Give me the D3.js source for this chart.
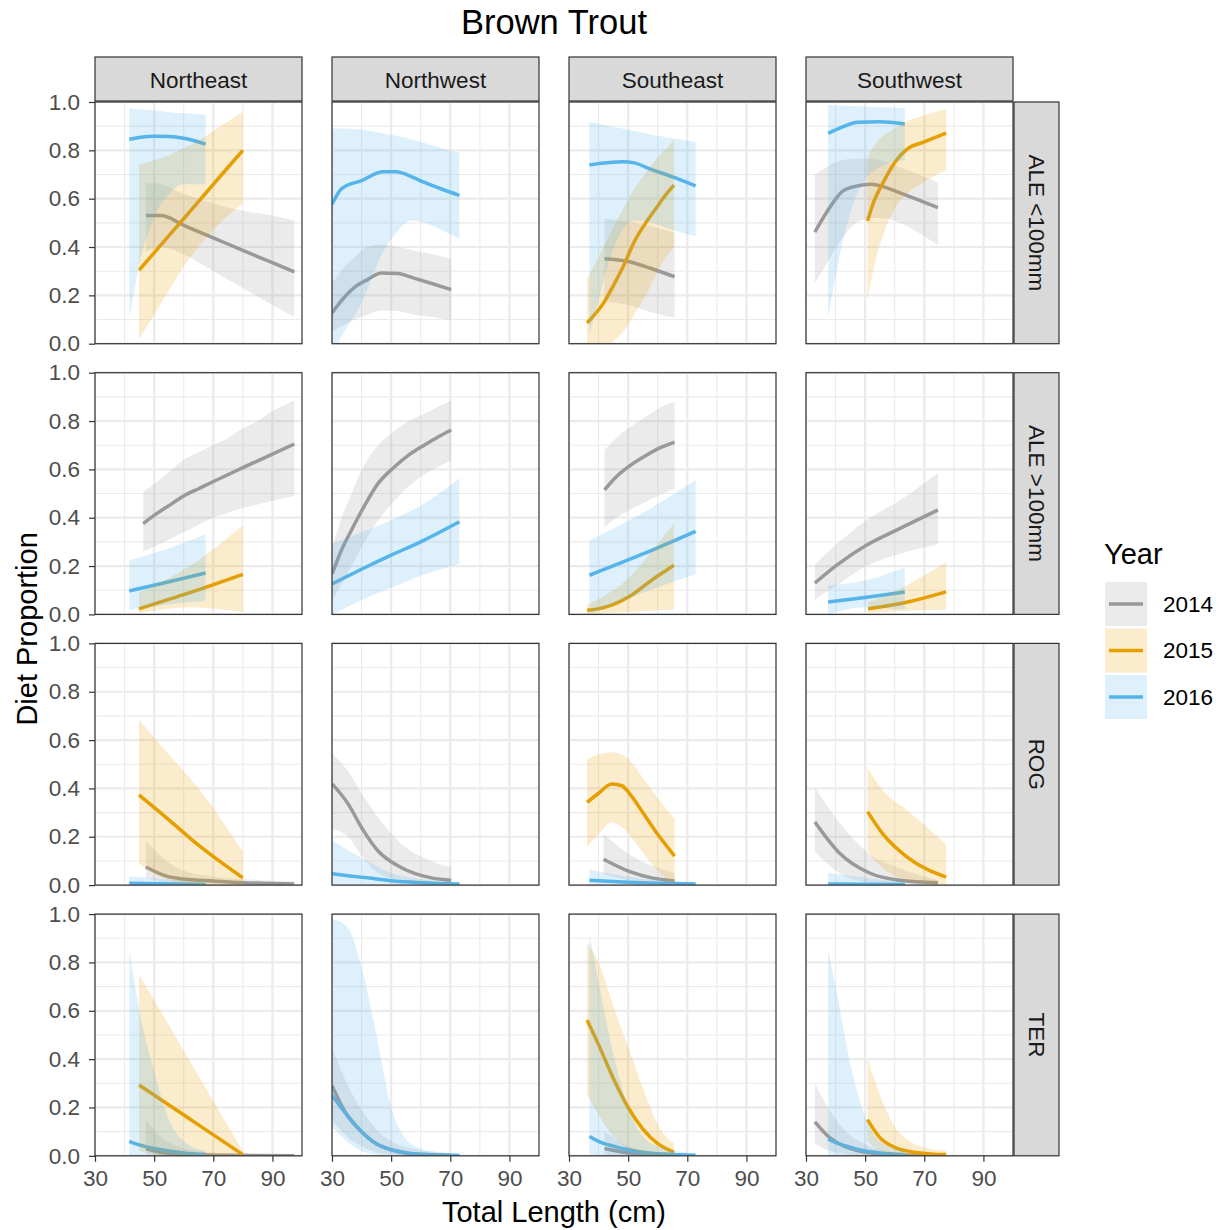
<!DOCTYPE html>
<html>
<head>
<meta charset="utf-8">
<script src="https://cdn.jsdelivr.net/npm/d3@7"></script>
<style>
  body { margin: 0; background: #fff; }
  svg { font-family: "Liberation Sans", Arial, sans-serif; }
</style>
</head>
<body>
<div id="chart"></div>
<script>
// facets and groups
var regions = ["Northeast", "Northwest", "Southeast", "Southwest"];
var preyTypes = ["ALE <100mm", "ALE >100mm", "ROG", "TER"];
var years = ["2014", "2015", "2016"];
var yearColors = ["#999999", "#E69F00", "#56B4E9"];
var xTicks = [30, 50, 70, 90];
var yTicks = [0, 0.2, 0.4, 0.6, 0.8, 1.0];

// fitted curves: x = total length, fit, lo, hi
var aleSmall = [
  {r: "Northeast", yr: "2014", x: [47.2, 52.3, 60, 70, 80, 90, 97.4],
   fit: [0.53, 0.53, 0.49, 0.438, 0.386, 0.335, 0.297],
   lo: [0.38, 0.40, 0.37, 0.30, 0.23, 0.16, 0.11],
   hi: [0.667, 0.66, 0.62, 0.58, 0.55, 0.53, 0.51]},
  {r: "Northeast", yr: "2015", x: [44.9, 50, 55, 60, 65, 70, 75, 80],
   fit: [0.304, 0.376, 0.447, 0.517, 0.588, 0.659, 0.73, 0.80],
   lo: [0.02, 0.12, 0.22, 0.32, 0.40, 0.47, 0.53, 0.58],
   hi: [0.74, 0.76, 0.78, 0.81, 0.84, 0.88, 0.92, 0.96]},
  {r: "Northeast", yr: "2016", x: [41.6, 45, 50, 55, 60, 67.4],
   fit: [0.846, 0.853, 0.858, 0.857, 0.85, 0.826],
   lo: [0.10, 0.33, 0.52, 0.62, 0.66, 0.66],
   hi: [0.974, 0.970, 0.965, 0.958, 0.953, 0.947]},
  {r: "Northwest", yr: "2014", x: [30, 33, 37.8, 42, 46.7, 52.3, 58, 64, 70.3],
   fit: [0.127, 0.175, 0.235, 0.265, 0.293, 0.29, 0.27, 0.248, 0.224],
   lo: [0.05, 0.07, 0.10, 0.12, 0.138, 0.135, 0.12, 0.11, 0.097],
   hi: [0.25, 0.30, 0.36, 0.40, 0.41, 0.40, 0.385, 0.37, 0.351]},
  {r: "Northwest", yr: "2016", x: [30, 33.3, 40, 47.3, 51.8, 57, 61.3, 67, 73.1],
   fit: [0.577, 0.642, 0.675, 0.711, 0.711, 0.69, 0.667, 0.64, 0.614],
   lo: [-0.05, 0.03, 0.17, 0.38, 0.46, 0.51, 0.50, 0.47, 0.434],
   hi: [0.89, 0.89, 0.885, 0.87, 0.86, 0.845, 0.83, 0.81, 0.79]},
  {r: "Southeast", yr: "2014", x: [42, 50, 58, 65.7],
   fit: [0.351, 0.34, 0.31, 0.277],
   lo: [0.176, 0.16, 0.13, 0.107],
   hi: [0.517, 0.505, 0.485, 0.459]},
  {r: "Southeast", yr: "2015", x: [36.1, 41.7, 45, 48.4, 52, 56.8, 60, 62.4, 65.5],
   fit: [0.086, 0.169, 0.24, 0.321, 0.42, 0.515, 0.57, 0.611, 0.656],
   lo: [-0.02, -0.01, 0.01, 0.05, 0.12, 0.22, 0.30, 0.35, 0.40],
   hi: [0.27, 0.40, 0.48, 0.56, 0.64, 0.72, 0.77, 0.80, 0.846]},
  {r: "Southeast", yr: "2016", x: [36.9, 40, 44, 48, 52, 58, 65, 72.8],
   fit: [0.739, 0.745, 0.75, 0.753, 0.748, 0.72, 0.69, 0.653],
   lo: [0.04, 0.18, 0.36, 0.47, 0.51, 0.50, 0.47, 0.445],
   hi: [0.918, 0.91, 0.90, 0.89, 0.88, 0.865, 0.85, 0.835]},
  {r: "Southwest", yr: "2014", x: [33, 36.9, 42.5, 47, 52.1, 56, 61.6, 68, 74.6],
   fit: [0.462, 0.542, 0.632, 0.652, 0.66, 0.65, 0.625, 0.595, 0.563],
   lo: [0.25, 0.33, 0.44, 0.50, 0.52, 0.52, 0.50, 0.46, 0.407],
   hi: [0.70, 0.73, 0.76, 0.765, 0.765, 0.755, 0.73, 0.70, 0.667]},
  {r: "Southwest", yr: "2015", x: [50.8, 53, 56.1, 60, 64.2, 70, 77.4],
   fit: [0.508, 0.59, 0.667, 0.75, 0.805, 0.835, 0.871],
   lo: [0.176, 0.32, 0.45, 0.56, 0.62, 0.67, 0.719],
   hi: [0.77, 0.82, 0.86, 0.89, 0.92, 0.945, 0.971]},
  {r: "Southwest", yr: "2016", x: [37.5, 42, 47.6, 54.9, 63.4],
   fit: [0.87, 0.895, 0.916, 0.918, 0.909],
   lo: [0.107, 0.40, 0.63, 0.73, 0.76],
   hi: [0.988, 0.985, 0.982, 0.978, 0.975]}
];

var aleLarge = [
  {r: "Northeast", yr: "2014", x: [46.3, 50, 55, 60, 65, 69.9, 75, 80, 85, 90, 97.4],
   fit: [0.376, 0.41, 0.45, 0.49, 0.52, 0.549, 0.578, 0.607, 0.635, 0.663, 0.705],
   lo: [0.259, 0.28, 0.31, 0.34, 0.37, 0.40, 0.42, 0.44, 0.455, 0.47, 0.49],
   hi: [0.508, 0.54, 0.59, 0.64, 0.67, 0.70, 0.73, 0.77, 0.80, 0.84, 0.885]},
  {r: "Northeast", yr: "2015", x: [44.9, 62, 80],
   fit: [0.023, 0.09, 0.166], lo: [0.005, 0.03, 0.01], hi: [0.09, 0.2, 0.369]},
  {r: "Northeast", yr: "2016", x: [41.6, 54, 67.4],
   fit: [0.097, 0.132, 0.171], lo: [0.017, 0.04, 0.055], hi: [0.224, 0.27, 0.332]},
  {r: "Northwest", yr: "2014", x: [30.1, 33, 36.6, 41, 45.6, 51.2, 56, 61.3, 66, 70.3],
   fit: [0.169, 0.26, 0.349, 0.45, 0.542, 0.611, 0.66, 0.701, 0.735, 0.763],
   lo: [0.058, 0.12, 0.2, 0.30, 0.39, 0.47, 0.53, 0.58, 0.61, 0.639],
   hi: [0.279, 0.39, 0.50, 0.62, 0.70, 0.76, 0.80, 0.83, 0.86, 0.885]},
  {r: "Northwest", yr: "2016", x: [30.1, 40, 50, 60, 73.1],
   fit: [0.127, 0.187, 0.245, 0.30, 0.383], lo: [0.0, 0.06, 0.11, 0.16, 0.21],
   hi: [0.293, 0.34, 0.39, 0.45, 0.563]},
  {r: "Southeast", yr: "2014", x: [42, 46, 50.1, 55, 60, 65.7],
   fit: [0.515, 0.57, 0.611, 0.65, 0.685, 0.713],
   lo: [0.362, 0.40, 0.43, 0.46, 0.49, 0.521],
   hi: [0.68, 0.73, 0.77, 0.81, 0.85, 0.881]},
  {r: "Southeast", yr: "2015", x: [36.1, 42.3, 50.1, 57.9, 65.5],
   fit: [0.017, 0.03, 0.072, 0.141, 0.203], lo: [0.0, 0.005, 0.01, 0.015, 0.02],
   hi: [0.04, 0.08, 0.15, 0.26, 0.376]},
  {r: "Southeast", yr: "2016", x: [36.9, 55, 72.8],
   fit: [0.162, 0.25, 0.344], lo: [0.0, 0.09, 0.166], hi: [0.307, 0.42, 0.556]},
  {r: "Southwest", yr: "2014", x: [33, 40.3, 50.4, 61.6, 74.6],
   fit: [0.13, 0.203, 0.286, 0.355, 0.432], lo: [0.061, 0.12, 0.2, 0.25, 0.29],
   hi: [0.207, 0.29, 0.39, 0.47, 0.586]},
  {r: "Southwest", yr: "2015", x: [51, 64, 77.4],
   fit: [0.023, 0.05, 0.093], lo: [0.005, 0.015, 0.02], hi: [0.05, 0.12, 0.217]},
  {r: "Southwest", yr: "2016", x: [37.5, 50, 63.4],
   fit: [0.051, 0.07, 0.093], lo: [0.0, 0.03, 0.02], hi: [0.12, 0.14, 0.194]}
];

var rog = [
  {r: "Northeast", yr: "2014", x: [47.2, 54.2, 60, 69.9, 80, 97.4],
   fit: [0.075, 0.037, 0.025, 0.017, 0.01, 0.005], lo: [0.03, 0.01, 0.005, 0, 0, 0],
   hi: [0.185, 0.10, 0.06, 0.035, 0.025, 0.015]},
  {r: "Northeast", yr: "2015", x: [44.9, 55, 65, 80],
   fit: [0.373, 0.27, 0.165, 0.03], lo: [0.088, 0.02, 0.0, 0.0], hi: [0.683, 0.54, 0.40, 0.138]},
  {r: "Northeast", yr: "2016", x: [41.6, 67.4],
   fit: [0.008, 0.003], lo: [0, 0], hi: [0.037, 0.01]},
  {r: "Northwest", yr: "2014", x: [30.1, 35.5, 40, 45.6, 53.5, 63.6, 70.3],
   fit: [0.418, 0.335, 0.238, 0.141, 0.072, 0.03, 0.02],
   lo: [0.231, 0.2, 0.12, 0.05, 0.02, 0.005, 0.005],
   hi: [0.542, 0.47, 0.38, 0.28, 0.17, 0.1, 0.072]},
  {r: "Northwest", yr: "2016", x: [30.1, 36, 43.4, 50, 60, 73.1],
   fit: [0.047, 0.038, 0.028, 0.018, 0.01, 0.005], lo: [0, 0, 0, 0, 0, 0],
   hi: [0.185, 0.14, 0.09, 0.05, 0.025, 0.01]},
  {r: "Southeast", yr: "2014", x: [41.7, 50.1, 58, 65.7],
   fit: [0.107, 0.058, 0.03, 0.017], lo: [0.045, 0.02, 0.005, 0.0], hi: [0.21, 0.13, 0.08, 0.05]},
  {r: "Southeast", yr: "2015", x: [36.1, 40, 44.5, 47.9, 51, 54.6, 60, 65.7],
   fit: [0.342, 0.38, 0.418, 0.411, 0.37, 0.307, 0.21, 0.12],
   lo: [0.158, 0.21, 0.259, 0.24, 0.2, 0.14, 0.06, 0.0],
   hi: [0.521, 0.54, 0.55, 0.54, 0.51, 0.45, 0.36, 0.273]},
  {r: "Southeast", yr: "2016", x: [36.9, 50, 72.8],
   fit: [0.02, 0.012, 0.005], lo: [0, 0, 0], hi: [0.065, 0.035, 0.01]},
  {r: "Southwest", yr: "2014", x: [33, 41.2, 51.3, 61.6, 74.6],
   fit: [0.261, 0.134, 0.051, 0.02, 0.01], lo: [0.138, 0.05, 0.01, 0.0, 0.0],
   hi: [0.404, 0.26, 0.13, 0.07, 0.02]},
  {r: "Southwest", yr: "2015", x: [50.8, 56.1, 64.2, 77.4],
   fit: [0.304, 0.21, 0.116, 0.033], lo: [0.138, 0.07, 0.02, 0.0], hi: [0.484, 0.39, 0.31, 0.169]},
  {r: "Southwest", yr: "2016", x: [37.5, 63.4],
   fit: [0.005, 0.002], lo: [0, 0], hi: [0.05, 0.01]}
];

var ter = [
  {r: "Northeast", yr: "2014", x: [47.2, 52, 58, 65, 75, 97.4],
   fit: [0.03, 0.015, 0.008, 0.004, 0.002, 0.0], lo: [0, 0, 0, 0, 0, 0],
   hi: [0.15, 0.08, 0.04, 0.02, 0.01, 0.003]},
  {r: "Northeast", yr: "2015", x: [44.9, 55, 65, 80],
   fit: [0.293, 0.21, 0.128, 0.005], lo: [0.02, 0, 0, 0], hi: [0.75, 0.54, 0.33, 0.02]},
  {r: "Northeast", yr: "2016", x: [41.6, 45, 50, 55, 60, 67.4],
   fit: [0.06, 0.045, 0.03, 0.02, 0.012, 0.005], lo: [0, 0, 0, 0, 0, 0],
   hi: [0.85, 0.6, 0.35, 0.15, 0.06, 0.02]},
  {r: "Northwest", yr: "2014", x: [30, 35, 40, 45, 50, 55, 62, 70.3],
   fit: [0.29, 0.17, 0.10, 0.05, 0.025, 0.012, 0.005, 0.002],
   lo: [0.15, 0.08, 0.04, 0.015, 0.005, 0, 0, 0],
   hi: [0.45, 0.30, 0.19, 0.11, 0.06, 0.035, 0.02, 0.01]},
  {r: "Northwest", yr: "2016", x: [30, 35, 40, 45, 50, 55, 60, 66, 73.1],
   fit: [0.25, 0.17, 0.10, 0.05, 0.025, 0.012, 0.006, 0.003, 0.001],
   lo: [0.12, 0.06, 0.02, 0.005, 0, 0, 0, 0, 0],
   hi: [0.98, 0.95, 0.78, 0.5, 0.2, 0.07, 0.03, 0.015, 0.01]},
  {r: "Southeast", yr: "2014", x: [42, 50, 58, 65.7],
   fit: [0.03, 0.012, 0.005, 0.002], lo: [0, 0, 0, 0], hi: [0.1, 0.04, 0.015, 0.005]},
  {r: "Southeast", yr: "2015", x: [36.1, 40, 45, 50, 55, 60, 65.5],
   fit: [0.562, 0.46, 0.32, 0.2, 0.11, 0.05, 0.015],
   lo: [0.25, 0.17, 0.08, 0.03, 0.01, 0.0, 0.0],
   hi: [0.88, 0.8, 0.62, 0.45, 0.28, 0.13, 0.05]},
  {r: "Southeast", yr: "2016", x: [36.9, 40, 45, 50, 55, 62, 72.8],
   fit: [0.08, 0.06, 0.04, 0.025, 0.015, 0.007, 0.002], lo: [0, 0, 0, 0, 0, 0, 0],
   hi: [0.92, 0.72, 0.42, 0.2, 0.08, 0.03, 0.01]},
  {r: "Southwest", yr: "2014", x: [33, 38, 42, 48, 55, 63, 74.6],
   fit: [0.14, 0.075, 0.045, 0.02, 0.008, 0.003, 0.001],
   lo: [0.05, 0.02, 0.01, 0, 0, 0, 0],
   hi: [0.3, 0.19, 0.12, 0.06, 0.025, 0.01, 0.004]},
  {r: "Southwest", yr: "2015", x: [50.8, 55, 60, 65, 70, 77.4],
   fit: [0.15, 0.075, 0.035, 0.018, 0.01, 0.005], lo: [0.06, 0.02, 0.005, 0, 0, 0],
   hi: [0.4, 0.25, 0.12, 0.06, 0.035, 0.02]},
  {r: "Southwest", yr: "2016", x: [37.5, 40, 45, 50, 55, 63.4],
   fit: [0.07, 0.055, 0.035, 0.02, 0.012, 0.005], lo: [0, 0, 0, 0, 0, 0],
   hi: [0.85, 0.7, 0.38, 0.16, 0.06, 0.02]}
];

var curvesByPrey = [aleSmall, aleLarge, rog, ter];

var width = 1226, height = 1230;
var panelW = 207, panelH = 241.7;
var left0 = 95, colStep = 237;
var top0 = 102, rowStep = 270.7;
var stripH = 44, stripW = 45;
var tickFont = 22.5, titleFont = 29;

var svg = d3.select("#chart").append("svg")
  .attr("width", width).attr("height", height);

var x = d3.scaleLinear().domain([30, 100]).range([0, panelW]);
var y = d3.scaleLinear().domain([0, 1]).range([panelH, 0]);
var color = d3.scaleOrdinal().domain(years).range(yearColors);

var line = d3.line()
  .x(function(d) { return x(d[0]); })
  .y(function(d) { return y(d[1]); })
  .curve(d3.curveMonotoneX);
var area = d3.area()
  .x(function(d) { return x(d[0]); })
  .y0(function(d) { return y(d[2]); })
  .y1(function(d) { return y(d[3]); })
  .curve(d3.curveMonotoneX);

function pts(c) {
  return c.x.map(function(v, i) { return [v, c.fit[i], c.lo[i], c.hi[i]]; });
}

svg.append("text")
  .attr("x", 554).attr("y", 34)
  .attr("text-anchor", "middle")
  .attr("font-size", 34.5)
  .text("Brown Trout");

svg.append("defs").append("clipPath").attr("id", "panelClip")
  .append("rect").attr("width", panelW).attr("height", panelH);

preyTypes.forEach(function(prey, i) {
  regions.forEach(function(region, j) {
    var g = svg.append("g")
      .attr("transform", "translate(" + (left0 + j * colStep) + "," + (top0 + i * rowStep) + ")");

    g.append("rect").attr("width", panelW).attr("height", panelH).attr("fill", "#fff");

    // grid
    var grid = g.append("g");
    grid.selectAll(".vmin").data([40, 60, 80]).enter().append("line")
      .attr("x1", x).attr("x2", x).attr("y1", 0).attr("y2", panelH)
      .attr("stroke", "#ebebeb").attr("stroke-width", 1.1);
    grid.selectAll(".hmin").data([0.1, 0.3, 0.5, 0.7, 0.9]).enter().append("line")
      .attr("y1", y).attr("y2", y).attr("x1", 0).attr("x2", panelW)
      .attr("stroke", "#ebebeb").attr("stroke-width", 1.1);
    grid.selectAll(".vmaj").data(xTicks).enter().append("line")
      .attr("x1", x).attr("x2", x).attr("y1", 0).attr("y2", panelH)
      .attr("stroke", "#ebebeb").attr("stroke-width", 2.2);
    grid.selectAll(".hmaj").data(yTicks).enter().append("line")
      .attr("y1", y).attr("y2", y).attr("x1", 0).attr("x2", panelW)
      .attr("stroke", "#ebebeb").attr("stroke-width", 2.2);

    var curves = curvesByPrey[i].filter(function(c) { return c.r === region; });
    var plot = g.append("g").attr("clip-path", "url(#panelClip)");

    plot.selectAll(".fit").data(curves).enter().append("path")
      .attr("d", function(c) { return line(pts(c)); })
      .attr("fill", "none")
      .attr("stroke", function(c) { return color(c.yr); })
      .attr("stroke-width", 3.5);

    plot.selectAll(".ci").data(curves).enter().append("path")
      .attr("d", function(c) { return area(pts(c)); })
      .attr("fill", function(c) { return color(c.yr); })
      .attr("fill-opacity", 0.2);

    g.append("rect").attr("width", panelW).attr("height", panelH)
      .attr("fill", "none").attr("stroke", "#333333").attr("stroke-width", 1.2);

    if (j === 0) {
      var ya = g.append("g").call(d3.axisLeft(y).tickValues(yTicks)
        .tickFormat(d3.format(".1f")).tickSize(6).tickPadding(9));
      ya.select(".domain").remove();
      ya.selectAll("line").attr("stroke", "#333333").attr("stroke-width", 1.2);
      ya.selectAll("text").attr("fill", "#4d4d4d").attr("font-size", tickFont)
        .attr("font-family", "Liberation Sans, Arial, sans-serif");
    }
    if (i === preyTypes.length - 1) {
      var xa = g.append("g").attr("transform", "translate(0," + panelH + ")")
        .call(d3.axisBottom(x).tickValues(xTicks).tickSize(6).tickPadding(8));
      xa.select(".domain").remove();
      xa.selectAll("line").attr("stroke", "#333333").attr("stroke-width", 1.2);
      xa.selectAll("text").attr("fill", "#4d4d4d").attr("font-size", tickFont)
        .attr("font-family", "Liberation Sans, Arial, sans-serif");
    }

    if (i === 0) {
      var st = svg.append("g")
        .attr("transform", "translate(" + (left0 + j * colStep) + "," + (top0 - stripH - 1) + ")");
      st.append("rect").attr("width", panelW).attr("height", stripH)
        .attr("fill", "#d9d9d9").attr("stroke", "#333333").attr("stroke-width", 1.2);
      st.append("text").attr("x", panelW / 2).attr("y", stripH / 2 + 1)
        .attr("dy", "0.35em").attr("text-anchor", "middle")
        .attr("font-size", tickFont).attr("fill", "#1a1a1a").text(region);
    }
    if (j === regions.length - 1) {
      var sr = svg.append("g")
        .attr("transform", "translate(" + (left0 + j * colStep + panelW + 1) + "," + (top0 + i * rowStep) + ")");
      sr.append("rect").attr("width", stripW).attr("height", panelH)
        .attr("fill", "#d9d9d9").attr("stroke", "#333333").attr("stroke-width", 1.2);
      sr.append("text")
        .attr("transform", "translate(" + (stripW / 2) + "," + (panelH / 2) + ") rotate(90)")
        .attr("dy", "0.35em").attr("text-anchor", "middle")
        .attr("font-size", tickFont).attr("fill", "#1a1a1a").text(prey);
    }
  });
});

// axis titles
svg.append("text")
  .attr("x", left0 + (3 * colStep + panelW) / 2).attr("y", 1222)
  .attr("text-anchor", "middle").attr("font-size", titleFont)
  .text("Total Length (cm)");
svg.append("text")
  .attr("transform", "translate(27," + (top0 + (3 * rowStep + panelH) / 2) + ") rotate(-90)")
  .attr("dy", "0.35em").attr("text-anchor", "middle").attr("font-size", titleFont)
  .text("Diet Proportion");

// legend
var legend = svg.append("g").attr("transform", "translate(1104,0)");
legend.append("text").attr("x", 0).attr("y", 564)
  .attr("font-size", titleFont).text("Year");
years.forEach(function(yr, k) {
  var cy = 604 + k * 46.5;
  legend.append("rect").attr("x", 1).attr("y", cy - 22).attr("width", 42).attr("height", 44)
    .attr("fill", color(yr)).attr("fill-opacity", 0.2);
  legend.append("line").attr("x1", 5).attr("x2", 39).attr("y1", cy).attr("y2", cy)
    .attr("stroke", color(yr)).attr("stroke-width", 3.5);
  legend.append("text").attr("x", 59).attr("y", cy).attr("dy", "0.35em")
    .attr("font-size", tickFont).text(yr);
});
</script>
</body>
</html>
